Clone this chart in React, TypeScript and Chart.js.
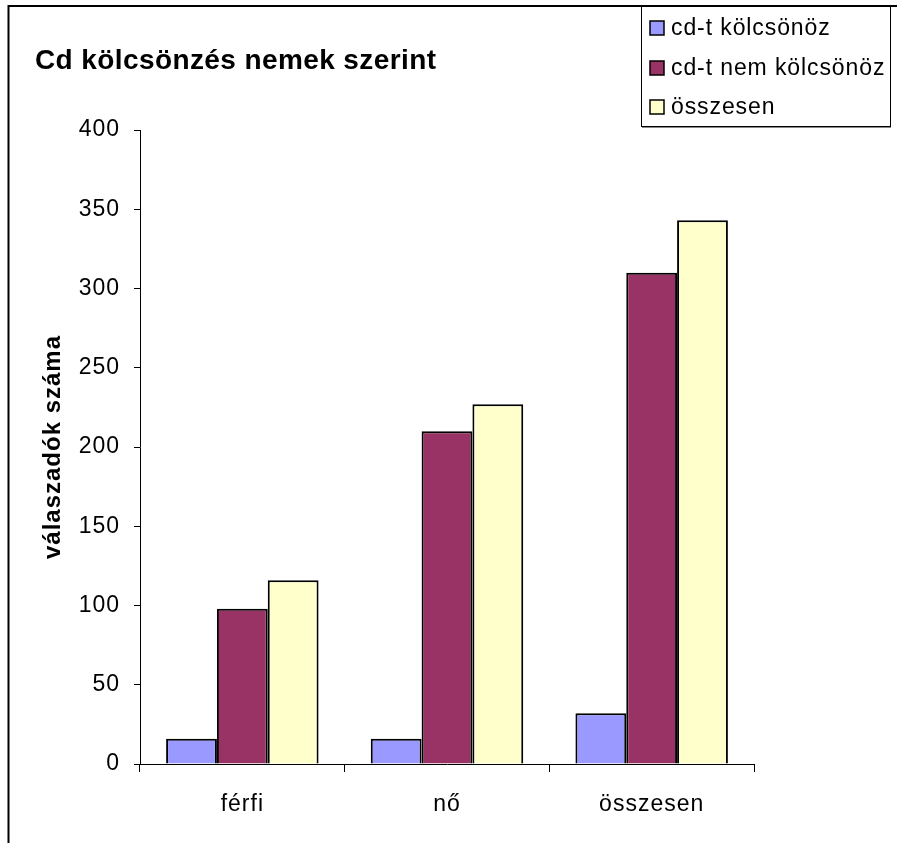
import React, { useEffect, useRef } from "react";
import { Chart, registerables } from "chart.js";

Chart.register(...registerables);

const CATEGORIES = ["férfi", "nő", "összesen"];
const SERIES_LABELS = ["cd-t kölcsönöz", "cd-t nem kölcsönöz", "összesen"];
const BORROWS = [16, 16, 32];
const NOT_BORROWS = [98, 210, 310];
const TOTAL = [116, 227, 343];
const Y_MIN = 0;
const Y_MAX = 400;
const Y_STEP = 50;
const TITLE = "Cd kölcsönzés nemek szerint";
const Y_TITLE = "válaszadók száma";
const COLORS = ["#9999FF", "#993366", "#FFFFCC"];

const FONT = "'Liberation Sans', Arial, sans-serif";

const decorPlugin = {
  id: "decor",
  beforeDraw(chart: any) {
    (chart.ctx as any).letterSpacing = "1px";
  },
  afterDraw(chart: any) {
    const ctx = chart.ctx as CanvasRenderingContext2D;
    ctx.save();
    // outer frame
    ctx.strokeStyle = "#000";
    ctx.lineWidth = 2;
    ctx.beginPath();
    ctx.moveTo(8.5, chart.height + 10);
    ctx.lineTo(8.5, 6);
    ctx.lineTo(chart.width + 10, 6);
    ctx.stroke();

    // title
    (ctx as any).letterSpacing = "0.4px";
    ctx.fillStyle = "#000";
    ctx.font = `bold 28px ${FONT}`;
    ctx.textBaseline = "middle";
    ctx.textAlign = "left";
    ctx.fillText(TITLE, 35, 61);

    // legend
    const lx = 641, ly = 6, lw = 249, lh = 120;
    ctx.fillStyle = "#fff";
    ctx.fillRect(lx, ly, lw, lh);
    ctx.lineWidth = 1;
    ctx.strokeStyle = "#000";
    ctx.strokeRect(lx + 0.5, ly + 0.5, lw, lh);
    ctx.strokeStyle = "#888";
    ctx.beginPath();
    ctx.moveTo(lx + 1, ly + lh + 1.5);
    ctx.lineTo(lx + lw + 1, ly + lh + 1.5);
    ctx.stroke();
    ctx.font = `23px ${FONT}`;
    (ctx as any).letterSpacing = "0.9px";
    const rows = [28, 68, 107];
    chart.data.datasets.forEach((ds: any, i: number) => {
      const cy = rows[i];
      ctx.fillStyle = ds.backgroundColor;
      ctx.fillRect(650, cy - 7, 14, 14);
      ctx.strokeStyle = "#000";
      ctx.lineWidth = 1.5;
      ctx.strokeRect(650, cy - 7, 14, 14);
      ctx.fillStyle = "#000";
      ctx.textBaseline = "middle";
      ctx.fillText(ds.label, 671, cy + 1);
    });
    ctx.restore();
    (ctx as any).letterSpacing = "0px";
  },
};

export default function App() {
  const ref = useRef<HTMLCanvasElement | null>(null);

  useEffect(() => {
    document.body.style.margin = "0";
    if (!ref.current) return;
    const series = [BORROWS, NOT_BORROWS, TOTAL];
    const chart = new Chart(ref.current, {
      type: "bar",
      data: {
        labels: CATEGORIES,
        datasets: series.map((data, i) => ({
          label: SERIES_LABELS[i],
          data,
          backgroundColor: COLORS[i],
          borderColor: "#000",
          borderWidth: 2,
          categoryPercentage: 0.745,
          barPercentage: 1,
        })),
      },
      options: {
        animation: false,
        responsive: false,
        layout: { padding: { top: 130, right: 143, left: 0, bottom: 0 } },
        plugins: {
          legend: { display: false },
          title: { display: false },
          tooltip: { enabled: false },
        },
        scales: {
          x: {
            grid: {
              display: true,
              drawOnChartArea: false,
              drawTicks: true,
              tickLength: 8,
              color: "#000",
              offset: true,
            },
            border: { display: true, color: "#000", width: 1 },
            ticks: {
              color: "#000",
              padding: 19,
              font: { family: FONT, size: 23 },
            },
            afterFit: (scale: any) => {
              scale.height = 79;
            },
          },
          y: {
            min: Y_MIN,
            max: Y_MAX,
            ticks: {
              stepSize: Y_STEP,
              color: "#000",
              padding: 14,
              font: { family: FONT, size: 23 },
            },
            grid: {
              display: true,
              drawOnChartArea: false,
              drawTicks: true,
              tickLength: 6,
              color: "#000",
            },
            border: { display: true, color: "#000", width: 1 },
            title: {
              display: true,
              text: Y_TITLE,
              color: "#000",
              font: { family: FONT, size: 24, weight: "bold" },
              padding: { top: 39, bottom: 0 },
            },
            afterFit: (scale: any) => {
              scale.width = 140;
            },
          },
        },
      },
      plugins: [decorPlugin],
    });
    return () => chart.destroy();
  }, []);

  return (
    <div style={{ width: 897, height: 843, background: "#fff" }}>
      <canvas ref={ref} width={897} height={843} style={{ display: "block", width: 897, height: 843 }} />
    </div>
  );
}
